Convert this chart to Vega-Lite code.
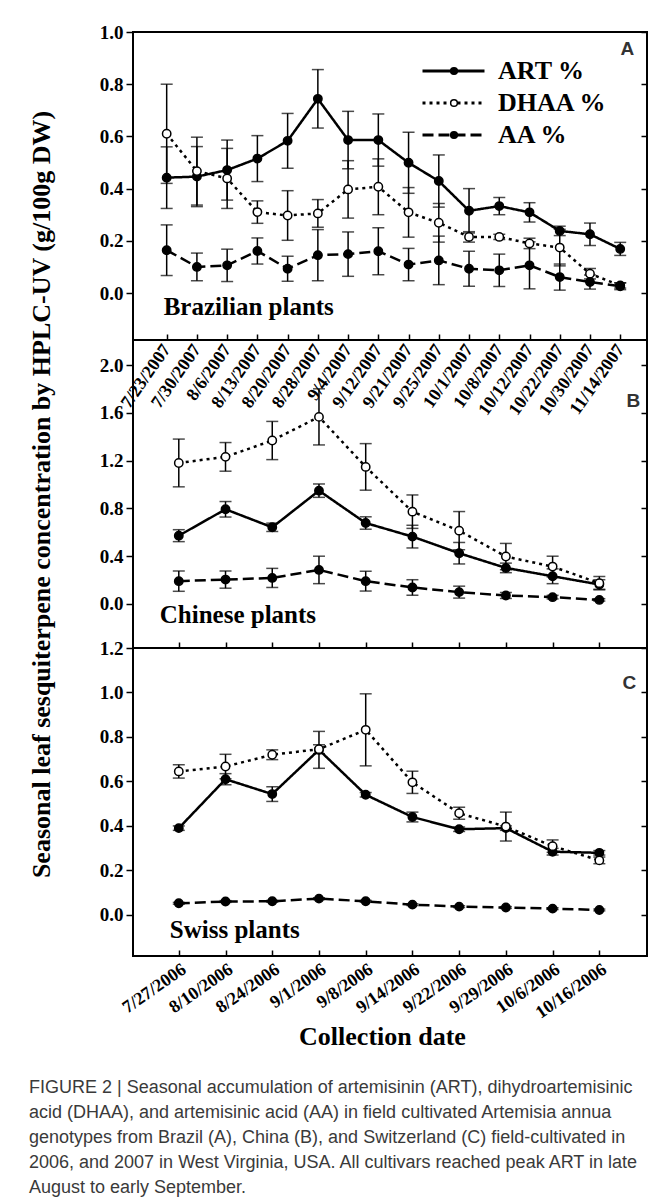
{
  "$schema": "https://vega.github.io/schema/vega-lite/v6.json",
  "padding": {"left": 27, "top": 22, "right": 5, "bottom": 3},
  "bounds": "flush",
  "spacing": 0,
  "title": {
    "text": [
      "FIGURE 2 | Seasonal accumulation of artemisinin (ART), dihydroartemisinic",
      "acid (DHAA), and artemisinic acid (AA) in field cultivated Artemisia annua",
      "genotypes from Brazil (A), China (B), and Switzerland (C) field-cultivated in",
      "2006, and 2007 in West Virginia, USA. All cultivars reached peak ART in late",
      "August to early September."
    ],
    "orient": "bottom", "anchor": "start", "frame": "group", "dx": -104, "offset": 28,
    "font": "Liberation Sans", "fontSize": 18, "fontWeight": "normal", "color": "#3a3a3a", "lineHeight": 25
  },
  "data": {"values": [
    {"panel":"A","date":"7/23/2007","series":"ART %","value":0.442,"lo":0.324,"hi":0.56},
    {"panel":"A","date":"7/30/2007","series":"ART %","value":0.446,"lo":0.331,"hi":0.561},
    {"panel":"A","date":"8/6/2007","series":"ART %","value":0.471,"lo":0.356,"hi":0.586},
    {"panel":"A","date":"8/13/2007","series":"ART %","value":0.515,"lo":0.427,"hi":0.603},
    {"panel":"A","date":"8/20/2007","series":"ART %","value":0.583,"lo":0.478,"hi":0.688},
    {"panel":"A","date":"8/28/2007","series":"ART %","value":0.744,"lo":0.632,"hi":0.856},
    {"panel":"A","date":"9/4/2007","series":"ART %","value":0.586,"lo":0.476,"hi":0.696},
    {"panel":"A","date":"9/12/2007","series":"ART %","value":0.586,"lo":0.486,"hi":0.686},
    {"panel":"A","date":"9/21/2007","series":"ART %","value":0.499,"lo":0.382,"hi":0.616},
    {"panel":"A","date":"9/25/2007","series":"ART %","value":0.429,"lo":0.329,"hi":0.529},
    {"panel":"A","date":"10/1/2007","series":"ART %","value":0.315,"lo":0.23,"hi":0.40},
    {"panel":"A","date":"10/8/2007","series":"ART %","value":0.333,"lo":0.30,"hi":0.366},
    {"panel":"A","date":"10/12/2007","series":"ART %","value":0.309,"lo":0.272,"hi":0.346},
    {"panel":"A","date":"10/22/2007","series":"ART %","value":0.238,"lo":0.22,"hi":0.256},
    {"panel":"A","date":"10/30/2007","series":"ART %","value":0.225,"lo":0.182,"hi":0.268},
    {"panel":"A","date":"11/14/2007","series":"ART %","value":0.169,"lo":0.144,"hi":0.194},
    {"panel":"A","date":"7/23/2007","series":"DHAA %","value":0.61,"lo":0.42,"hi":0.80},
    {"panel":"A","date":"7/30/2007","series":"DHAA %","value":0.467,"lo":0.337,"hi":0.597},
    {"panel":"A","date":"8/6/2007","series":"DHAA %","value":0.439,"lo":0.324,"hi":0.554},
    {"panel":"A","date":"8/13/2007","series":"DHAA %","value":0.31,"lo":0.267,"hi":0.353},
    {"panel":"A","date":"8/20/2007","series":"DHAA %","value":0.297,"lo":0.202,"hi":0.392},
    {"panel":"A","date":"8/28/2007","series":"DHAA %","value":0.305,"lo":0.252,"hi":0.358},
    {"panel":"A","date":"9/4/2007","series":"DHAA %","value":0.397,"lo":0.287,"hi":0.507},
    {"panel":"A","date":"9/12/2007","series":"DHAA %","value":0.407,"lo":0.30,"hi":0.514},
    {"panel":"A","date":"9/21/2007","series":"DHAA %","value":0.309,"lo":0.214,"hi":0.404},
    {"panel":"A","date":"9/25/2007","series":"DHAA %","value":0.269,"lo":0.195,"hi":0.343},
    {"panel":"A","date":"10/1/2007","series":"DHAA %","value":0.215,"lo":0.195,"hi":0.235},
    {"panel":"A","date":"10/8/2007","series":"DHAA %","value":0.215,"lo":0.205,"hi":0.225},
    {"panel":"A","date":"10/12/2007","series":"DHAA %","value":0.19,"lo":0.17,"hi":0.21},
    {"panel":"A","date":"10/22/2007","series":"DHAA %","value":0.174,"lo":0.104,"hi":0.244},
    {"panel":"A","date":"10/30/2007","series":"DHAA %","value":0.074,"lo":0.054,"hi":0.094},
    {"panel":"A","date":"11/14/2007","series":"DHAA %","value":0.029,"lo":0.019,"hi":0.039},
    {"panel":"A","date":"7/23/2007","series":"AA %","value":0.164,"lo":0.067,"hi":0.261},
    {"panel":"A","date":"7/30/2007","series":"AA %","value":0.1,"lo":0.047,"hi":0.153},
    {"panel":"A","date":"8/6/2007","series":"AA %","value":0.106,"lo":0.044,"hi":0.168},
    {"panel":"A","date":"8/13/2007","series":"AA %","value":0.161,"lo":0.111,"hi":0.211},
    {"panel":"A","date":"8/20/2007","series":"AA %","value":0.093,"lo":0.045,"hi":0.141},
    {"panel":"A","date":"8/28/2007","series":"AA %","value":0.145,"lo":0.047,"hi":0.243},
    {"panel":"A","date":"9/4/2007","series":"AA %","value":0.149,"lo":0.064,"hi":0.234},
    {"panel":"A","date":"9/12/2007","series":"AA %","value":0.16,"lo":0.07,"hi":0.25},
    {"panel":"A","date":"9/21/2007","series":"AA %","value":0.109,"lo":0.047,"hi":0.171},
    {"panel":"A","date":"9/25/2007","series":"AA %","value":0.125,"lo":0.032,"hi":0.218},
    {"panel":"A","date":"10/1/2007","series":"AA %","value":0.093,"lo":0.026,"hi":0.16},
    {"panel":"A","date":"10/8/2007","series":"AA %","value":0.087,"lo":0.025,"hi":0.149},
    {"panel":"A","date":"10/12/2007","series":"AA %","value":0.106,"lo":0.016,"hi":0.196},
    {"panel":"A","date":"10/22/2007","series":"AA %","value":0.061,"lo":0.011,"hi":0.111},
    {"panel":"A","date":"10/30/2007","series":"AA %","value":0.042,"lo":0.015,"hi":0.069},
    {"panel":"A","date":"11/14/2007","series":"AA %","value":0.026,"lo":0.013,"hi":0.039},

    {"panel":"B","date":"7/27/2006","series":"ART %","value":0.571,"lo":0.521,"hi":0.621},
    {"panel":"B","date":"8/10/2006","series":"ART %","value":0.792,"lo":0.727,"hi":0.857},
    {"panel":"B","date":"8/24/2006","series":"ART %","value":0.641,"lo":0.606,"hi":0.676},
    {"panel":"B","date":"9/1/2006","series":"ART %","value":0.948,"lo":0.892,"hi":1.004},
    {"panel":"B","date":"9/8/2006","series":"ART %","value":0.677,"lo":0.625,"hi":0.729},
    {"panel":"B","date":"9/14/2006","series":"ART %","value":0.563,"lo":0.468,"hi":0.658},
    {"panel":"B","date":"9/22/2006","series":"ART %","value":0.424,"lo":0.334,"hi":0.514},
    {"panel":"B","date":"9/29/2006","series":"ART %","value":0.301,"lo":0.261,"hi":0.341},
    {"panel":"B","date":"10/6/2006","series":"ART %","value":0.231,"lo":0.169,"hi":0.293},
    {"panel":"B","date":"10/16/2006","series":"ART %","value":0.162,"lo":0.122,"hi":0.202},
    {"panel":"B","date":"7/27/2006","series":"DHAA %","value":1.18,"lo":0.98,"hi":1.38},
    {"panel":"B","date":"8/10/2006","series":"DHAA %","value":1.231,"lo":1.111,"hi":1.351},
    {"panel":"B","date":"8/24/2006","series":"DHAA %","value":1.368,"lo":1.208,"hi":1.528},
    {"panel":"B","date":"9/1/2006","series":"DHAA %","value":1.566,"lo":1.331,"hi":1.801},
    {"panel":"B","date":"9/8/2006","series":"DHAA %","value":1.147,"lo":0.952,"hi":1.342},
    {"panel":"B","date":"9/14/2006","series":"DHAA %","value":0.772,"lo":0.632,"hi":0.912},
    {"panel":"B","date":"9/22/2006","series":"DHAA %","value":0.613,"lo":0.453,"hi":0.773},
    {"panel":"B","date":"9/29/2006","series":"DHAA %","value":0.396,"lo":0.286,"hi":0.506},
    {"panel":"B","date":"10/6/2006","series":"DHAA %","value":0.312,"lo":0.225,"hi":0.399},
    {"panel":"B","date":"10/16/2006","series":"DHAA %","value":0.173,"lo":0.117,"hi":0.229},
    {"panel":"B","date":"7/27/2006","series":"AA %","value":0.19,"lo":0.105,"hi":0.275},
    {"panel":"B","date":"8/10/2006","series":"AA %","value":0.203,"lo":0.131,"hi":0.275},
    {"panel":"B","date":"8/24/2006","series":"AA %","value":0.217,"lo":0.137,"hi":0.297},
    {"panel":"B","date":"9/1/2006","series":"AA %","value":0.284,"lo":0.169,"hi":0.399},
    {"panel":"B","date":"9/8/2006","series":"AA %","value":0.19,"lo":0.107,"hi":0.273},
    {"panel":"B","date":"9/14/2006","series":"AA %","value":0.137,"lo":0.072,"hi":0.202},
    {"panel":"B","date":"9/22/2006","series":"AA %","value":0.098,"lo":0.048,"hi":0.148},
    {"panel":"B","date":"9/29/2006","series":"AA %","value":0.07,"lo":0.045,"hi":0.095},
    {"panel":"B","date":"10/6/2006","series":"AA %","value":0.056,"lo":0.041,"hi":0.071},
    {"panel":"B","date":"10/16/2006","series":"AA %","value":0.033,"lo":0.023,"hi":0.043},

    {"panel":"C","date":"7/27/2006","series":"ART %","value":0.39,"lo":0.38,"hi":0.40},
    {"panel":"C","date":"8/10/2006","series":"ART %","value":0.61,"lo":0.585,"hi":0.635},
    {"panel":"C","date":"8/24/2006","series":"ART %","value":0.543,"lo":0.51,"hi":0.576},
    {"panel":"C","date":"9/1/2006","series":"ART %","value":0.742,"lo":0.659,"hi":0.825},
    {"panel":"C","date":"9/8/2006","series":"ART %","value":0.54,"lo":0.53,"hi":0.55},
    {"panel":"C","date":"9/14/2006","series":"ART %","value":0.44,"lo":0.418,"hi":0.462},
    {"panel":"C","date":"9/22/2006","series":"ART %","value":0.385,"lo":0.375,"hi":0.395},
    {"panel":"C","date":"9/29/2006","series":"ART %","value":0.39,"lo":0.38,"hi":0.40},
    {"panel":"C","date":"10/6/2006","series":"ART %","value":0.284,"lo":0.269,"hi":0.299},
    {"panel":"C","date":"10/16/2006","series":"ART %","value":0.279,"lo":0.269,"hi":0.289},
    {"panel":"C","date":"7/27/2006","series":"DHAA %","value":0.645,"lo":0.615,"hi":0.675},
    {"panel":"C","date":"8/10/2006","series":"DHAA %","value":0.667,"lo":0.612,"hi":0.722},
    {"panel":"C","date":"8/24/2006","series":"DHAA %","value":0.72,"lo":0.698,"hi":0.742},
    {"panel":"C","date":"9/1/2006","series":"DHAA %","value":0.745,"lo":0.725,"hi":0.765},
    {"panel":"C","date":"9/8/2006","series":"DHAA %","value":0.832,"lo":0.67,"hi":0.994},
    {"panel":"C","date":"9/14/2006","series":"DHAA %","value":0.596,"lo":0.546,"hi":0.646},
    {"panel":"C","date":"9/22/2006","series":"DHAA %","value":0.457,"lo":0.43,"hi":0.484},
    {"panel":"C","date":"9/29/2006","series":"DHAA %","value":0.397,"lo":0.332,"hi":0.462},
    {"panel":"C","date":"10/6/2006","series":"DHAA %","value":0.309,"lo":0.281,"hi":0.337},
    {"panel":"C","date":"10/16/2006","series":"DHAA %","value":0.245,"lo":0.23,"hi":0.26},
    {"panel":"C","date":"7/27/2006","series":"AA %","value":0.052,"lo":0.048,"hi":0.056},
    {"panel":"C","date":"8/10/2006","series":"AA %","value":0.06,"lo":0.056,"hi":0.064},
    {"panel":"C","date":"8/24/2006","series":"AA %","value":0.061,"lo":0.057,"hi":0.065},
    {"panel":"C","date":"9/1/2006","series":"AA %","value":0.073,"lo":0.069,"hi":0.077},
    {"panel":"C","date":"9/8/2006","series":"AA %","value":0.061,"lo":0.057,"hi":0.065},
    {"panel":"C","date":"9/14/2006","series":"AA %","value":0.046,"lo":0.042,"hi":0.05},
    {"panel":"C","date":"9/22/2006","series":"AA %","value":0.037,"lo":0.033,"hi":0.041},
    {"panel":"C","date":"9/29/2006","series":"AA %","value":0.033,"lo":0.029,"hi":0.037},
    {"panel":"C","date":"10/6/2006","series":"AA %","value":0.028,"lo":0.024,"hi":0.032},
    {"panel":"C","date":"10/16/2006","series":"AA %","value":0.022,"lo":0.018,"hi":0.026}
  ]},
  "vconcat": [
    {
      "width": 514, "height": 308,
      "transform": [{"filter": "datum.panel === 'A'"}],
      "encoding": {
        "x": {"field": "date", "type": "ordinal", "sort": null,
          "scale": {"type": "point", "padding": 1.18, "align": 0.557},
          "axis": {"title": null, "labelAngle": -55, "tickSize": -6, "labelPadding": 12, "labelFontSize": 18}}
      },
      "layer": [
        {"mark": {"type": "rule", "color": "black", "strokeWidth": 1.5},
         "encoding": {
           "y": {"field": "lo", "type": "quantitative", "scale": {"domain": [-0.18, 1.0], "nice": false, "zero": false},
             "axis": {"values": [0, 0.2, 0.4, 0.6, 0.8, 1.0], "format": ".1f", "tickSize": 7, "labelPadding": 3, "title": null}},
           "y2": {"field": "hi"}}},
        {"mark": {"type": "tick", "color": "black", "thickness": 1.5, "size": 12, "orient": "horizontal"},
         "encoding": {"y": {"field": "lo", "type": "quantitative", "axis": null}}},
        {"mark": {"type": "tick", "color": "black", "thickness": 1.5, "size": 12, "orient": "horizontal"},
         "encoding": {"y": {"field": "hi", "type": "quantitative",
           "axis": {"orient": "right", "values": [0, 0.2, 0.4, 0.6, 0.8, 1.0], "labels": false, "tickSize": -6, "title": null}}}},
        {"mark": {"type": "line", "color": "black", "strokeWidth": 2.5},
         "encoding": {
           "y": {"field": "value", "type": "quantitative", "axis": null},
           "order": {"value": null},
           "strokeDash": {"field": "series", "type": "nominal",
             "scale": {"domain": ["ART %", "DHAA %", "AA %"], "range": [[1, 0], [3, 4], [11, 5]]},
             "legend": {"orient": "none", "legendX": 288, "legendY": 25, "title": null, "padding": 0,
               "symbolType": "stroke", "symbolSize": 3844, "symbolStrokeWidth": 3, "symbolStrokeColor": "black",
               "clipHeight": 28, "rowPadding": 4, "labelOffset": 12,
               "labelFont": "Liberation Serif", "labelFontSize": 26, "labelFontWeight": "bold", "labelColor": "black", "zindex": 0}}}},
        {"mark": {"type": "point", "filled": true, "stroke": "black", "strokeWidth": 1.5, "size": 70, "opacity": 1},
         "encoding": {
           "y": {"field": "value", "type": "quantitative", "axis": null},
           "fill": {"field": "series", "type": "nominal", "sort": null,
             "scale": {"range": ["black", "white", "black"]},
             "legend": {"orient": "none", "legendX": 316, "legendY": 25, "title": null, "padding": 0,
               "symbolType": "circle", "symbolSize": 45, "symbolStrokeWidth": 1.5, "symbolStrokeColor": "black", "symbolOpacity": 1,
               "clipHeight": 28, "rowPadding": 4, "labelExpr": "''", "zindex": 1}}}},
        {"transform": [{"filter": "datum.date === '7/23/2007' && datum.series === 'ART %'"}],
         "mark": {"type": "text", "font": "Liberation Serif", "fontWeight": "bold", "fontSize": 25, "align": "left", "baseline": "alphabetic", "dx": -3, "color": "black"},
         "encoding": {"x": {"datum": "7/23/2007"}, "y": {"datum": -0.085, "axis": null}, "text": {"value": "Brazilian plants"}}},
        {"transform": [{"filter": "datum.date === '7/23/2007' && datum.series === 'ART %'"}],
         "mark": {"type": "text", "font": "Liberation Sans", "fontWeight": "bold", "fontSize": 19, "align": "right", "baseline": "middle", "dx": 14, "color": "#333333"},
         "encoding": {"x": {"datum": "11/14/2007"}, "y": {"datum": 0.935, "axis": null}, "text": {"value": "A"}}}
      ],
      "resolve": {"axis": {"y": "independent"}}
    },
    {
      "width": 514, "height": 308,
      "transform": [{"filter": "datum.panel === 'B'"}],
      "encoding": {
        "x": {"field": "date", "type": "ordinal", "sort": null,
          "scale": {"type": "point", "padding": 1.0, "align": 0.49},
          "axis": {"title": null, "labels": false, "tickSize": -6}}
      },
      "layer": [
        {"mark": {"type": "rule", "color": "black", "strokeWidth": 1.5},
         "encoding": {
           "y": {"field": "lo", "type": "quantitative", "scale": {"domain": [-0.37, 2.21], "nice": false, "zero": false},
             "axis": {"values": [0, 0.4, 0.8, 1.2, 1.6, 2.0], "format": ".1f", "tickSize": 7, "labelPadding": 3,
               "title": "Seasonal leaf sesquiterpene concentration by HPLC-UV (g/100g DW)", "titleFontSize": 26, "titlePadding": 45}},
           "y2": {"field": "hi"}}},
        {"mark": {"type": "tick", "color": "black", "thickness": 1.5, "size": 12, "orient": "horizontal"},
         "encoding": {"y": {"field": "lo", "type": "quantitative", "axis": null}}},
        {"mark": {"type": "tick", "color": "black", "thickness": 1.5, "size": 12, "orient": "horizontal"},
         "encoding": {"y": {"field": "hi", "type": "quantitative",
           "axis": {"orient": "right", "values": [0, 0.4, 0.8, 1.2, 1.6, 2.0], "labels": false, "tickSize": -6, "title": null}}}},
        {"mark": {"type": "line", "color": "black", "strokeWidth": 2.5},
         "encoding": {
           "y": {"field": "value", "type": "quantitative", "axis": null},
           "order": {"value": null},
           "strokeDash": {"field": "series", "type": "nominal",
             "scale": {"domain": ["ART %", "DHAA %", "AA %"], "range": [[1, 0], [3, 4], [11, 5]]}, "legend": null}}},
        {"mark": {"type": "point", "filled": true, "stroke": "black", "strokeWidth": 1.5, "size": 70, "opacity": 1},
         "encoding": {
           "y": {"field": "value", "type": "quantitative", "axis": null},
           "fill": {"field": "series", "type": "nominal", "sort": null,
             "scale": {"range": ["black", "white", "black"]}, "legend": null}}},
        {"transform": [{"filter": "datum.date === '7/27/2006' && datum.series === 'ART %'"}],
         "mark": {"type": "text", "font": "Liberation Serif", "fontWeight": "bold", "fontSize": 25, "align": "left", "baseline": "alphabetic", "dx": -19, "color": "black"},
         "encoding": {"x": {"datum": "7/27/2006"}, "y": {"datum": -0.16, "axis": null}, "text": {"value": "Chinese plants"}}},
        {"transform": [{"filter": "datum.date === '7/27/2006' && datum.series === 'ART %'"}],
         "mark": {"type": "text", "font": "Liberation Sans", "fontWeight": "bold", "fontSize": 19, "align": "right", "baseline": "middle", "dx": 41, "color": "#333333"},
         "encoding": {"x": {"datum": "10/16/2006"}, "y": {"datum": 1.70, "axis": null}, "text": {"value": "B"}}}
      ],
      "resolve": {"axis": {"y": "independent"}}
    },
    {
      "width": 514, "height": 308,
      "transform": [{"filter": "datum.panel === 'C'"}],
      "encoding": {
        "x": {"field": "date", "type": "ordinal", "sort": null,
          "scale": {"type": "point", "padding": 1.0, "align": 0.49},
          "axis": {"title": "Collection date", "titleFontSize": 26, "titlePadding": 2, "titleX": 249,
            "labelAngle": -35, "tickSize": -6, "labelPadding": 10, "labelFontSize": 18}}
      },
      "layer": [
        {"mark": {"type": "rule", "color": "black", "strokeWidth": 1.5},
         "encoding": {
           "y": {"field": "lo", "type": "quantitative", "scale": {"domain": [-0.185, 1.2], "nice": false, "zero": false},
             "axis": {"values": [0, 0.2, 0.4, 0.6, 0.8, 1.0, 1.2], "format": ".1f", "tickSize": 7, "labelPadding": 3, "title": null}},
           "y2": {"field": "hi"}}},
        {"mark": {"type": "tick", "color": "black", "thickness": 1.5, "size": 12, "orient": "horizontal"},
         "encoding": {"y": {"field": "lo", "type": "quantitative", "axis": null}}},
        {"mark": {"type": "tick", "color": "black", "thickness": 1.5, "size": 12, "orient": "horizontal"},
         "encoding": {"y": {"field": "hi", "type": "quantitative",
           "axis": {"orient": "right", "values": [0, 0.2, 0.4, 0.6, 0.8, 1.0, 1.2], "labels": false, "tickSize": -6, "title": null}}}},
        {"mark": {"type": "line", "color": "black", "strokeWidth": 2.5},
         "encoding": {
           "y": {"field": "value", "type": "quantitative", "axis": null},
           "order": {"value": null},
           "strokeDash": {"field": "series", "type": "nominal",
             "scale": {"domain": ["ART %", "DHAA %", "AA %"], "range": [[1, 0], [3, 4], [11, 5]]}, "legend": null}}},
        {"mark": {"type": "point", "filled": true, "stroke": "black", "strokeWidth": 1.5, "size": 70, "opacity": 1},
         "encoding": {
           "y": {"field": "value", "type": "quantitative", "axis": null},
           "fill": {"field": "series", "type": "nominal", "sort": null,
             "scale": {"range": ["black", "white", "black"]}, "legend": null}}},
        {"transform": [{"filter": "datum.date === '7/27/2006' && datum.series === 'ART %'"}],
         "mark": {"type": "text", "font": "Liberation Serif", "fontWeight": "bold", "fontSize": 25, "align": "left", "baseline": "alphabetic", "dx": -9, "color": "black"},
         "encoding": {"x": {"datum": "7/27/2006"}, "y": {"datum": -0.103, "axis": null}, "text": {"value": "Swiss plants"}}},
        {"transform": [{"filter": "datum.date === '7/27/2006' && datum.series === 'ART %'"}],
         "mark": {"type": "text", "font": "Liberation Sans", "fontWeight": "bold", "fontSize": 19, "align": "right", "baseline": "middle", "dx": 37, "color": "#333333"},
         "encoding": {"x": {"datum": "10/16/2006"}, "y": {"datum": 1.043, "axis": null}, "text": {"value": "C"}}}
      ],
      "resolve": {"axis": {"y": "independent"}}
    }
  ],
  "resolve": {"scale": {"strokeDash": "independent", "fill": "independent"}, "legend": {"strokeDash": "independent", "fill": "independent"}},
  "config": {
    "view": {"stroke": "black", "strokeWidth": 2},
    "axis": {"grid": false, "domain": false, "tickColor": "black", "tickWidth": 1.5,
      "labelFont": "Liberation Serif", "labelFontWeight": "bold", "labelFontSize": 19, "labelColor": "black",
      "titleFont": "Liberation Serif", "titleFontWeight": "bold", "titleColor": "black"}
  }
}
